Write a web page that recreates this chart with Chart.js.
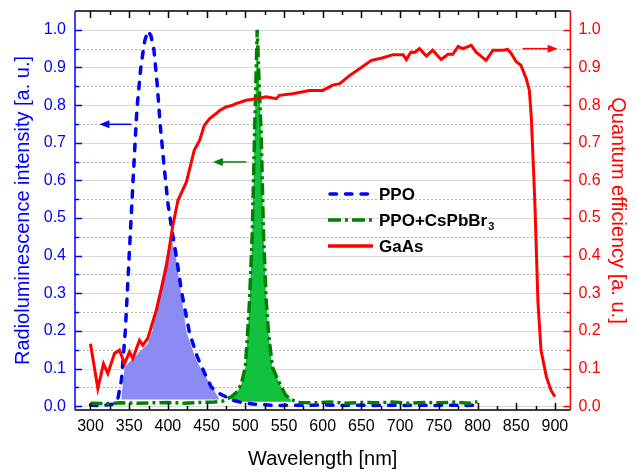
<!DOCTYPE html>
<html>
<head>
<meta charset="utf-8">
<script src="https://cdn.jsdelivr.net/npm/chart.js"></script>
<style>
  body { margin: 0; background: #fff; }
  canvas { display: block; }
</style>
</head>
<body>
<canvas id="chart" width="638" height="471"></canvas>
<script>
// wavelength ticks (nm) and intensity ticks
const xTicks = [300, 350, 400, 450, 500, 550, 600, 650, 700, 750, 800, 850, 900];
const yTicks = [0, 0.1, 0.2, 0.3, 0.4, 0.5, 0.6, 0.7, 0.8, 0.9, 1.0];

// PPO radioluminescence (blue dashed)
const ppoWl  = [300, 310, 320, 330, 335, 340, 345, 350, 355, 360, 365, 370, 374, 378, 382, 386, 390, 395, 400, 405, 410, 418, 428, 438, 447, 456, 466, 475, 484, 495, 510, 525, 540, 560, 580, 600, 620, 640, 660, 680, 700, 720, 740, 760, 780, 800];
const ppoVal = [0.003, 0.002, 0.003, 0.006, 0.016, 0.07, 0.2, 0.4, 0.6, 0.79, 0.9, 0.97, 0.997, 0.985, 0.946, 0.86, 0.75, 0.64, 0.54, 0.47, 0.41, 0.3, 0.194, 0.131, 0.09, 0.051, 0.034, 0.025, 0.016, 0.01, 0.006, 0.004, 0.002, 0.003, 0.002, 0.004, 0.002, 0.003, 0.002, 0.003, 0.002, 0.003, 0.002, 0.003, 0.002, 0.003];

// overlap of PPO emission and GaAs response (light blue area)
const overlapWl  = [339.7, 344, 374, 380, 387, 395, 404, 410, 417, 424, 436.5, 451.6, 466.7];
const overlapVal = [0.018, 0.104, 0.166, 0.2, 0.28, 0.37, 0.45, 0.4, 0.3, 0.197, 0.122, 0.069, 0.018];

// PPO+CsPbBr3 radioluminescence (green dash-dot)
const pcbWl  = [300, 320, 340, 360, 380, 400, 420, 440, 460, 470, 482, 490, 495, 500, 503, 505.5, 509, 512, 515.4, 518, 520.5, 523.5, 527, 530, 535, 541, 547, 552, 559, 570, 590, 610, 630, 650, 670, 690, 710, 730, 750, 770, 790, 800];
const pcbVal = [0.008, 0.007, 0.009, 0.008, 0.009, 0.01, 0.008, 0.01, 0.011, 0.013, 0.025, 0.04, 0.06, 0.104, 0.194, 0.281, 0.459, 0.725, 1.0, 0.85, 0.725, 0.459, 0.281, 0.194, 0.104, 0.075, 0.05, 0.03, 0.018, 0.01, 0.009, 0.011, 0.008, 0.01, 0.009, 0.011, 0.008, 0.01, 0.009, 0.011, 0.008, 0.012];

// GaAs quantum efficiency (red, right axis)
const gaasWl  = [300, 309.5, 316.8, 322.4, 331, 337.5, 344, 350.4, 354.7, 363.3, 367.6, 374, 385, 398, 406, 413, 424, 434, 441, 447, 454, 462, 467, 475, 484, 488, 501, 514, 527, 540, 544, 561, 583, 600, 613, 622, 635, 648, 663, 678, 691, 704, 708, 714, 719, 725, 734, 742, 753, 762, 768, 775, 781, 792, 798, 811, 820, 833, 839, 844, 850, 856, 863, 867, 869.5, 874, 878, 882, 889, 895, 900];
const gaasVal = [0.166, 0.047, 0.113, 0.087, 0.14, 0.149, 0.113, 0.144, 0.127, 0.175, 0.162, 0.18, 0.255, 0.37, 0.476, 0.547, 0.596, 0.68, 0.706, 0.746, 0.764, 0.777, 0.786, 0.795, 0.8, 0.804, 0.813, 0.817, 0.822, 0.817, 0.826, 0.83, 0.839, 0.839, 0.853, 0.857, 0.879, 0.897, 0.919, 0.926, 0.934, 0.934, 0.921, 0.941, 0.94, 0.95, 0.93, 0.946, 0.921, 0.935, 0.935, 0.956, 0.95, 0.959, 0.941, 0.919, 0.946, 0.946, 0.948, 0.936, 0.915, 0.906, 0.87, 0.839, 0.768, 0.547, 0.281, 0.149, 0.078, 0.042, 0.025];

// arrows showing which axis each curve belongs to [x from, x to, y]
const arrows = [
  { from: 352.6, to: 311.6, y: 0.749, color: '#0000ff' },
  { from: 501.2, to: 458, y: 0.649, color: '#008000' },
  { from: 858, to: 903.5, y: 0.95, color: '#ff0000' }
];

const FONT = "'Liberation Sans', Arial, sans-serif";
const pts = (xs, ys) => xs.map((x, i) => ({ x: x, y: ys[i] }));
const greenFillWl = pcbWl.filter(w => w >= 482 && w <= 559);
const greenFillVal = pcbVal.filter((v, i) => pcbWl[i] >= 482 && pcbWl[i] <= 559);

// gridlines, inward ticks, frame, arrows and legend
const decorations = {
  id: 'decorations',
  beforeDatasetsDraw(chart) {
    const { ctx, chartArea: a, scales } = chart;
    const y = scales.y;
    ctx.save();
    for (let i = 0; i <= 20; i++) {
      const py = Math.round(y.getPixelForValue(i * 0.05)) + 0.5;
      ctx.beginPath();
      if (i % 2 === 0) { ctx.strokeStyle = '#d9d9d9'; ctx.setLineDash([]); }
      else { ctx.strokeStyle = '#b5b5b5'; ctx.setLineDash([2, 2]); }
      ctx.lineWidth = 1;
      ctx.moveTo(a.left, py); ctx.lineTo(a.right, py);
      ctx.stroke();
    }
    ctx.restore();
  },
  afterDatasetsDraw(chart) {
    const { ctx, chartArea: a, scales } = chart;
    const x = scales.x, y = scales.y;
    ctx.save();
    ctx.setLineDash([]);
    ctx.lineWidth = 1.5;
    // x ticks bottom and top
    ctx.strokeStyle = '#000';
    for (let w = 300; w <= 900; w += 25) {
      const px = Math.round(x.getPixelForValue(w)) + 0.5;
      const len = w % 50 === 0 ? 7 : 4;
      ctx.beginPath();
      ctx.moveTo(px, a.bottom); ctx.lineTo(px, a.bottom - len);
      ctx.moveTo(px, a.top); ctx.lineTo(px, a.top + len);
      ctx.stroke();
    }
    ctx.beginPath();
    ctx.moveTo(a.left, a.bottom); ctx.lineTo(a.right, a.bottom);
    ctx.moveTo(a.left, a.top); ctx.lineTo(a.right, a.top);
    ctx.stroke();
    // y ticks left (blue) and right (red)
    for (let i = 0; i <= 20; i++) {
      const py = Math.round(y.getPixelForValue(i * 0.05)) + 0.5;
      const len = i % 2 === 0 ? 7 : 4;
      ctx.strokeStyle = '#0000ff';
      ctx.beginPath(); ctx.moveTo(a.left, py); ctx.lineTo(a.left + len, py); ctx.stroke();
      ctx.strokeStyle = '#ff0000';
      ctx.beginPath(); ctx.moveTo(a.right, py); ctx.lineTo(a.right - len, py); ctx.stroke();
    }
    ctx.strokeStyle = '#0000ff';
    ctx.beginPath(); ctx.moveTo(a.left, a.top); ctx.lineTo(a.left, a.bottom); ctx.stroke();
    ctx.strokeStyle = '#ff0000';
    ctx.beginPath(); ctx.moveTo(a.right, a.top); ctx.lineTo(a.right, a.bottom); ctx.stroke();

    // arrows
    arrows.forEach(ar => {
      const x1 = x.getPixelForValue(ar.from), x2 = x.getPixelForValue(ar.to);
      const py = y.getPixelForValue(ar.y);
      const dir = Math.sign(x2 - x1);
      ctx.strokeStyle = ar.color; ctx.fillStyle = ar.color; ctx.lineWidth = 1.5;
      ctx.beginPath(); ctx.moveTo(x1, py); ctx.lineTo(x2 - dir * 8, py); ctx.stroke();
      ctx.beginPath();
      ctx.moveTo(x2, py); ctx.lineTo(x2 - dir * 10, py - 4); ctx.lineTo(x2 - dir * 10, py + 4);
      ctx.closePath(); ctx.fill();
    });

    // legend
    const lx0 = 328, lx1 = 373, tx = 379;
    const rows = [
      { y: 194, color: '#0000ff', dash: [6.5, 9], cap: 'round', text: 'PPO' },
      { y: 220, color: '#008000', dash: [13, 4, 3, 4], cap: 'butt', text: 'PPO+CsPbBr', sub: '3' },
      { y: 246, color: '#ff0000', dash: [], cap: 'butt', text: 'GaAs' }
    ];
    rows.forEach(r => {
      ctx.strokeStyle = r.color; ctx.lineWidth = 3.5;
      ctx.setLineDash(r.dash); ctx.lineCap = r.cap;
      ctx.beginPath(); ctx.moveTo(lx0 + (r.cap === 'round' ? 2 : 0), r.y); ctx.lineTo(lx1, r.y); ctx.stroke();
      ctx.setLineDash([]); ctx.lineCap = 'butt';
      ctx.fillStyle = '#000';
      ctx.font = 'bold 17px ' + FONT;
      ctx.textBaseline = 'middle'; ctx.textAlign = 'left';
      ctx.fillText(r.text, tx, r.y + 1);
      if (r.sub) {
        const w = ctx.measureText(r.text).width;
        ctx.font = 'bold 11px ' + FONT;
        ctx.fillText(r.sub, tx + w + 1, r.y + 7);
      }
    });
    ctx.restore();
  }
};

const yCommon = {
  min: -0.01, max: 1.05,
  grid: { display: false, drawTicks: false },
  border: { display: false },
  afterBuildTicks: s => { s.ticks = yTicks.map(v => ({ value: v })); }
};

new Chart(document.getElementById('chart'), {
  type: 'line',
  data: {
    datasets: [
      {
        label: 'GaAs', yAxisID: 'y2', data: pts(gaasWl, gaasVal),
        borderColor: '#ff0000', borderWidth: 3, pointRadius: 0, fill: false, order: 0
      },
      {
        label: 'PPO+CsPbBr3', yAxisID: 'y', data: pts(pcbWl, pcbVal),
        borderColor: '#008000', borderWidth: 3.5, borderDash: [12, 4, 3, 4], pointRadius: 0, fill: false, order: 1
      },
      {
        label: 'PPO', yAxisID: 'y', data: pts(ppoWl, ppoVal),
        borderColor: '#0000ff', borderWidth: 3.5, borderDash: [6.5, 9], borderCapStyle: 'round',
        pointRadius: 0, fill: false, order: 2
      },
      {
        label: 'green area', yAxisID: 'y', data: pts(greenFillWl, greenFillVal),
        borderWidth: 0, borderColor: 'rgba(0,0,0,0)', backgroundColor: '#12c23e',
        pointRadius: 0, fill: { value: 0.012 }, order: 3
      },
      {
        label: 'overlap', yAxisID: 'y', data: pts(overlapWl, overlapVal),
        borderWidth: 0, borderColor: 'rgba(0,0,0,0)', backgroundColor: '#8b8bf3',
        pointRadius: 0, fill: { value: 0.018 }, order: 4
      }
    ]
  },
  options: {
    responsive: false,
    animation: false,
    layout: { padding: { top: 11, left: 0, right: 0, bottom: 0 } },
    plugins: { legend: { display: false }, tooltip: { enabled: false } },
    elements: { line: { tension: 0 } },
    scales: {
      x: {
        type: 'linear', min: 280, max: 920,
        grid: { display: false, drawTicks: false },
        border: { display: false },
        afterBuildTicks: s => { s.ticks = xTicks.map(v => ({ value: v })); },
        afterFit: s => { s.height = 61; s.paddingLeft = 0; s.paddingRight = 0; },
        ticks: { color: '#000', font: { family: FONT, size: 16 }, padding: 7, maxRotation: 0, autoSkip: false },
        title: { display: true, text: 'Wavelength [nm]', color: '#000', font: { family: FONT, size: 20 }, padding: { top: 2, bottom: 0 } }
      },
      y: Object.assign({}, yCommon, {
        position: 'left',
        afterFit: s => { s.width = 75; s.paddingTop = 0; s.paddingBottom = 0; },
        ticks: { color: '#0000ff', font: { family: FONT, size: 16 }, padding: 9, callback: v => v.toFixed(1) },
        title: { display: true, text: 'Radioluminescence intensity [a. u.]', color: '#0000ff', font: { family: FONT, size: 20 }, padding: { top: 11, bottom: 0 } }
      }),
      y2: Object.assign({}, yCommon, {
        position: 'right',
        afterFit: s => { s.width = 67.6; s.paddingTop = 0; s.paddingBottom = 0; },
        ticks: { color: '#ff0000', font: { family: FONT, size: 16 }, padding: 8, callback: v => v.toFixed(1) },
        title: { display: true, text: 'Quantum efficiency [a. u.]', color: '#ff0000', font: { family: FONT, size: 20 }, padding: { top: 8, bottom: 0 } }
      })
    }
  },
  plugins: [decorations]
});
</script>
</body>
</html>
